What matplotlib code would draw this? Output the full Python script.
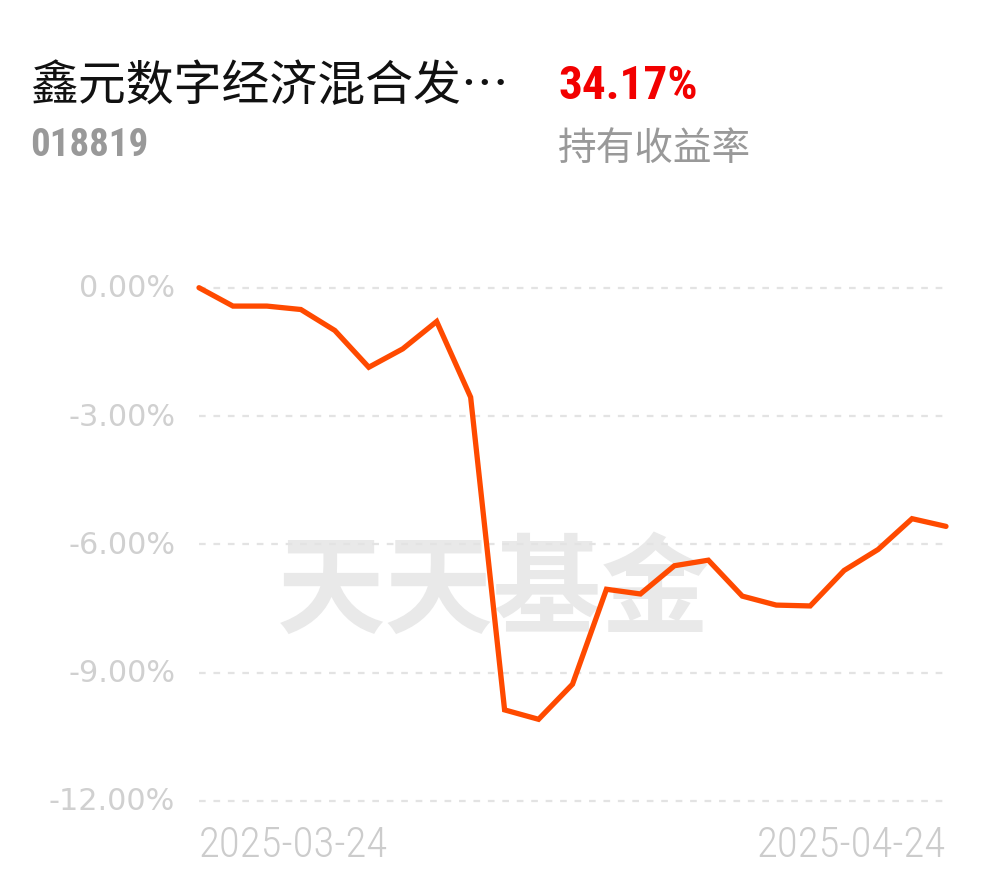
import matplotlib
matplotlib.use("Agg")
import matplotlib.pyplot as plt
from matplotlib import font_manager as fm

names = sorted({f.name for f in fm.fontManager.ttflist})

dates = ["2025-03-24", "2025-03-25", "2025-03-26", "2025-03-27", "2025-03-28", "2025-03-31",
         "2025-04-01", "2025-04-02", "2025-04-03", "2025-04-07", "2025-04-08", "2025-04-09",
         "2025-04-10", "2025-04-11", "2025-04-14", "2025-04-15", "2025-04-16", "2025-04-17",
         "2025-04-18", "2025-04-21", "2025-04-22", "2025-04-23", "2025-04-24"]
returns = [0.00, -0.43, -0.43, -0.51, -1.00, -1.86, -1.43, -0.79, -2.56, -9.87, -10.09, -9.27,
           -7.05, -7.16, -6.50, -6.37, -7.21, -7.42, -7.44, -6.61, -6.12, -5.40, -5.58]
yticks = [0, -3, -6, -9, -12]
ytick_labels = ["0.00%", "-3.00%", "-6.00%", "-9.00%", "-12.00%"]
xtick_labels = ["2025-03-24", "2025-04-24"]
fund_name = "鑫元数字经济混合发…"
fund_code = "018819"
hold_return = "34.17%"
hold_label = "持有收益率"
watermark = "天天基金"

def pick(*cands):
    for c in cands:
        if c in names:
            return c
    return "DejaVu Sans"

cjk = "Noto Sans CJK SC"
narrow = pick("Roboto Condensed", "Liberation Sans Narrow", "Roboto")

W, H = 990, 878
fig = plt.figure(figsize=(W / 100, H / 100), dpi=100)
fig.patch.set_facecolor("white")

x0, x1 = 199, 946
ytop, ybot = 288.7, 802
ax = fig.add_axes([x0 / W, 1 - ybot / H, (x1 - x0) / W, (ybot - ytop) / H])
ax.set_xlim(0, len(returns) - 1)
ax.set_ylim(-12, 0)
for s in ax.spines.values():
    s.set_visible(False)
ax.set_xticks([])
ax.set_yticks([])

for v in yticks:
    ax.axhline(v, color="#e3e3e3", lw=1.6, ls=(0, (3.0, 3.5)), zorder=1, clip_on=False)

# watermark
ax.text(0.395, 0.405, watermark, transform=ax.transAxes, ha="center", va="center",
        fontsize=78, color="#e9e9e9", fontweight="bold", family=[cjk], zorder=0)

xs = list(range(len(returns)))
ax.plot(xs, returns, color="#FF4A00", lw=3.8, solid_joinstyle="miter", solid_capstyle="round",
        zorder=3, clip_on=False)

for v, lab in zip(yticks, ytick_labels):
    fig.text(175 / W, 1 - (ytop + (0 - v) / 12 * (ybot - ytop)) / H, lab, ha="right", va="center",
             fontsize=21.8, color="#d0d0d0", family=["DejaVu Sans"])

fig.text(x0 / W, 1 - 846 / H, xtick_labels[0], ha="left", va="center", fontsize=31,
         color="#cccccc", fontweight="light", family=[narrow])
fig.text(x1 / W, 1 - 846 / H, xtick_labels[1], ha="right", va="center", fontsize=31,
         color="#cccccc", fontweight="light", family=[narrow])

fig.text(30 / W, 1 - 86 / H, fund_name, ha="left", va="center", fontsize=34.5, color="#111111",
         family=[cjk, "DejaVu Sans"])
fig.text(30 / W, 1 - 146 / H, fund_code, ha="left", va="center", fontsize=28, color="#999999",
         fontweight="bold", family=[narrow])
fig.text(558 / W, 1 - 86 / H, hold_return, ha="left", va="center", fontsize=34, color="#F20000",
         fontweight="bold", family=[narrow])
fig.text(558 / W, 1 - 149 / H, hold_label, ha="left", va="center", fontsize=27.8, color="#999999",
         family=[cjk])

fig.savefig("out.png", dpi=100, facecolor="white")
